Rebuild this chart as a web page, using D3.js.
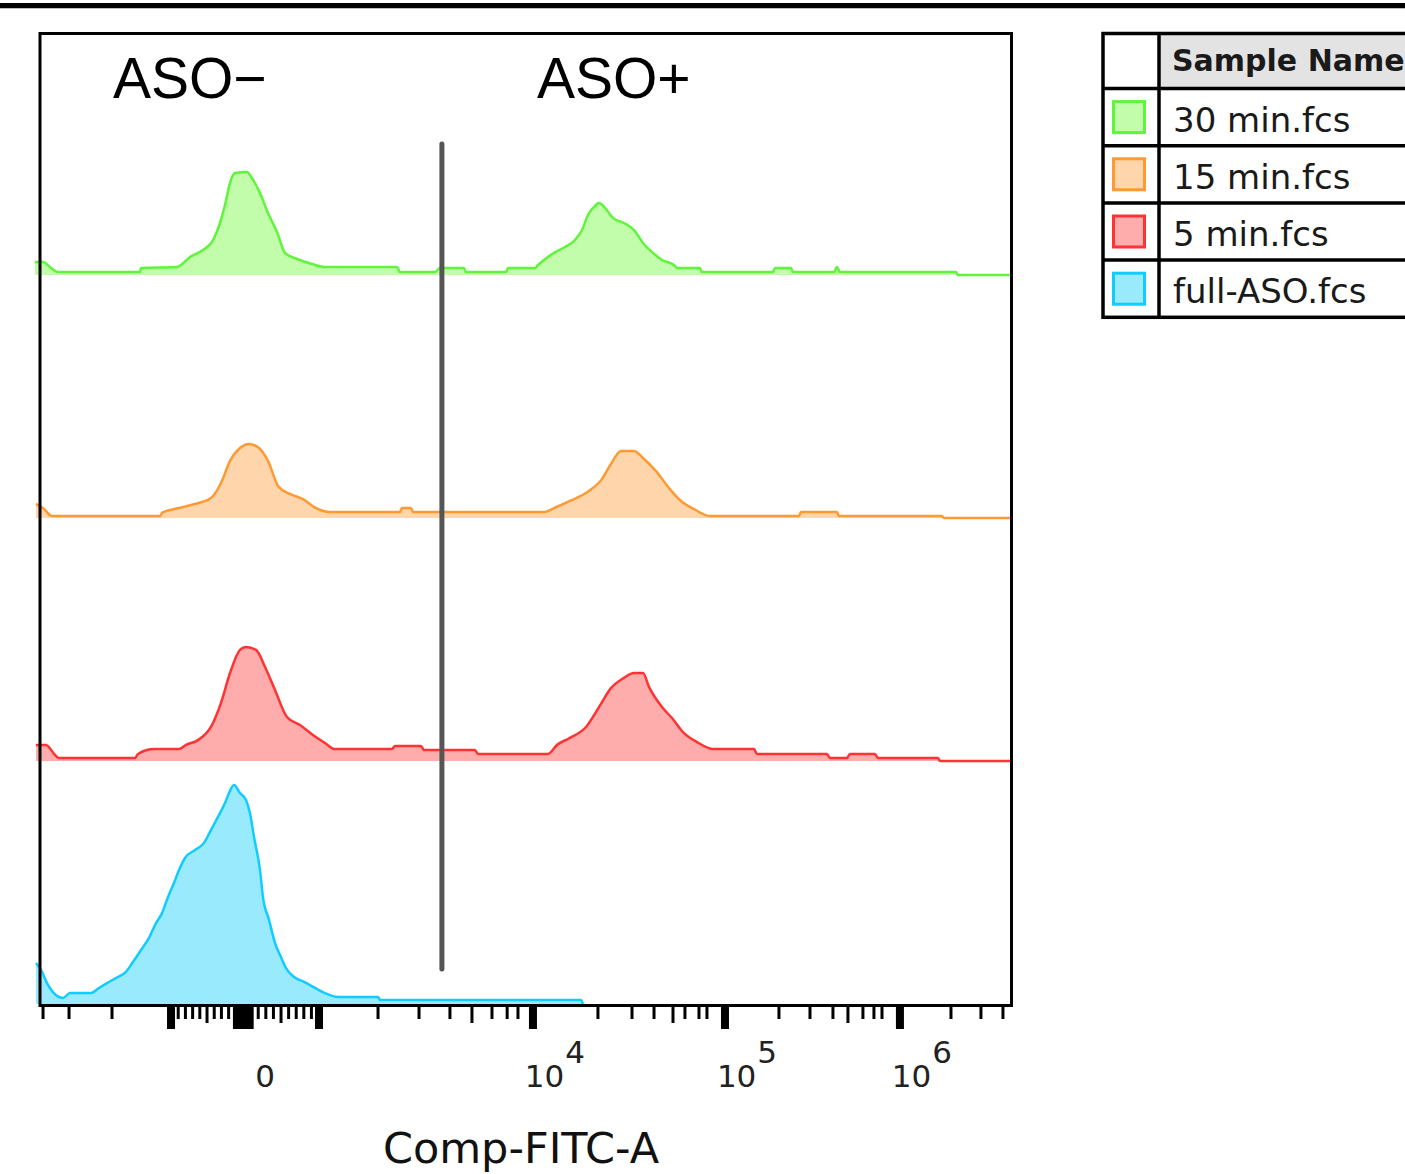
<!DOCTYPE html>
<html><head><meta charset="utf-8">
<script src="https://cdn.jsdelivr.net/npm/d3@7"></script>
<style>body{margin:0;background:#fff}svg{display:block}</style>
</head><body>
<script>
// ---------- DATA ----------
const sampleNames = ["30 min.fcs", "15 min.fcs", "5 min.fcs", "full-ASO.fcs"];
const strokeColors = ["#5ef53a", "#ff9933", "#ff3333", "#11ccff"];
const fillColors   = ["#c1fdab", "#ffd6ab", "#ffacac", "#9aeafe"];
const stackOffsets = [300, 200, 100, 0];   // staggered overlay offsets (% of mode units)

// histogram channels (0-1024 display channel) and heights (% of mode)
const ch30  = [-5.3,3.2,10.5,19.0,105.4,106.5,144.4,158.1,171.8,181.3,189.7,195.0,200.3,205.5,218.2,223.4,231.9,240.3,249.8,258.2,270.9,286.7,300.4,376.3,379.4,416.3,421.6,446.9,449.0,491.2,493.3,521.7,524.9,531.2,541.8,553.4,563.9,571.3,577.6,583.9,589.2,595.5,603.9,615.5,626.1,635.6,646.1,655.6,668.2,671.4,695.6,697.7,772.6,774.7,791.6,793.7,836.9,840.0,843.2,965.5,967.6,1024];
const pct30 = [5.3,5.3,3.3,1.2,1.2,2.9,3.3,7.4,10.3,13.6,21.4,28.8,37.9,42.0,42.4,39.9,33.7,25.5,17.7,9.1,6.6,4.5,3.3,3.3,1.2,1.2,2.9,2.9,1.2,1.2,2.9,2.9,4.1,6.2,9.1,11.5,14.4,18.5,24.7,28.0,29.6,27.6,23.5,21.4,18.5,13.2,9.1,6.2,4.1,2.9,2.9,1.2,1.2,2.9,2.9,1.2,1.2,3.3,1.2,1.2,0,0];

const ch15  = [-4.2,4.2,12.6,126.5,128.6,146.5,163.4,180.2,190.8,200.3,210.8,220.3,230.8,240.3,250.9,263.5,277.2,290.9,304.6,379.4,381.5,391.0,393.1,532.3,541.8,558.6,578.6,592.3,601.8,612.4,626.1,635.6,649.3,663.0,675.6,689.3,706.2,800.0,802.1,840.0,842.1,950.7,952.8,1024];
const pct15 = [5.8,3.7,0.8,0.8,2.1,4.1,5.8,8.2,14.4,23.5,28.8,30.5,28.8,23.5,13.2,9.9,7.8,4.1,2.5,2.5,4.1,4.1,2.5,2.5,4.1,7.0,11.1,16.0,22.2,27.6,27.6,24.7,19.3,12.3,7.0,3.7,0.8,0.8,2.5,2.5,0.8,0.8,0,0];

const ch5  = [-4.2,6.3,15.8,20.0,100.1,103.3,120.2,146.5,153.9,166.5,180.2,190.8,200.3,210.8,217.1,227.7,237.2,247.7,260.3,274.0,287.7,300.4,310.9,371.0,374.2,401.6,404.7,458.5,461.7,535.4,544.9,558.6,575.5,589.2,601.8,615.5,626.1,635.6,641.9,655.6,666.1,678.8,692.5,709.3,752.6,755.7,829.5,832.7,850.6,853.7,880.1,883.3,946.5,948.6,1024];
const pct5 = [6.6,6.6,2.5,1.2,1.2,2.9,4.9,4.9,6.6,8.6,14.0,23.9,36.2,45.7,46.9,45.7,38.7,29.2,18.1,14.8,10.7,7.4,4.9,4.9,6.2,6.2,4.5,4.5,2.9,2.9,6.6,9.5,14.0,22.2,30.0,34.2,36.2,36.2,30.5,22.2,17.7,11.5,7.8,4.9,4.9,2.9,2.9,1.2,1.2,2.9,2.9,1.2,1.2,0,0];

const chFull  = [-4.2,1.1,7.4,13.7,24.2,31.6,53.8,62.2,70.6,80.1,90.6,98.0,106.5,114.9,122.3,128.6,134.9,141.2,146.5,152.8,163.4,172.9,179.2,187.6,195.0,199.2,204.5,210.8,217.1,221.3,225.6,231.9,235.0,241.4,247.7,254.0,259.3,267.7,278.3,289.9,300.4,314.1,356.3,358.4,570.2,572.3];
const pctFull = [16.9,14.0,8.6,4.9,2.5,4.5,4.5,6.6,8.6,10.7,13.2,17.3,22.2,27.2,33.3,37.4,44.0,49.8,55.1,60.1,63.4,66.3,70.8,77.0,82.7,86.8,90.1,86.8,84.0,78.6,68.7,55.1,44.0,34.6,25.1,19.3,14.8,11.1,9.1,6.6,4.5,2.9,2.9,1.6,1.6,0];

const seriesCh  = [ch30, ch15, ch5, chFull];
const seriesPct = [pct30, pct15, pct5, pctFull];

// Comp-FITC-A display transform (fluorescence value -> display channel)
const calValues   = [-4000,-3000,-2000,-1000,0,1000,2000,3000,4000,5000,6000,7000,8000,9000,1e4,2e4,3e4,4e4,5e4,6e4,7e4,8e4,9e4,1e5,2e5,3e5,4e5,5e5,6e5,7e5,8e5,9e5,1e6,2e6,3e6,4e6];
const calChannels = [3.2,30.6,75.9,138.1,214.0,294.1,356.3,399.5,432.1,455.3,476.4,492.4,503.8,512.2,519.6,588.1,624.0,647.2,667.2,679.8,694.6,703.0,713.3,722.0,778.9,811.6,835.8,851.6,867.4,879.0,887.5,897.7,906.4,960.2,991.8,1015.0];

const majorTicks  = [-1000, 1000, 1e4, 1e5, 1e6];
const mediumTicks = [-500, 500, 5000, 5e4, 5e5];
const minorTicks  = [-4000,-3000,-2000,-900,-800,-700,-600,-400,-300,-200,200,300,400,600,700,800,900,2000,3000,4000,6000,7000,8000,2e4,3e4,4e4,6e4,7e4,8e4,2e5,3e5,4e5,6e5,7e5,8e5,2e6,3e6,4e6];
const zeroBand    = [-140, 140];
const labelValues = [0, 1e4, 1e5, 1e6];
const labelBases  = ["0", "10", "10", "10"];
const labelExps   = ["", "4", "5", "6"];
const gateValue   = 3740;          // ASO-/ASO+ gate
const xTitle = "Comp-FITC-A";
const gateLabels = ["ASO\u2212", "ASO+"];
const legendHeader = "Sample Name";

// ---------- LAYOUT ----------
const W = 1405, H = 1174;
const plot = {left: 40, right: 1011.5, top: 33.5, bottom: 1005.5};
const svg = d3.select("body").append("svg").attr("width", W).attr("height", H);

// top rule
svg.append("rect").attr("x", 0).attr("y", 3).attr("width", W).attr("height", 5).attr("fill", "#000");
svg.append("rect").attr("x", 0).attr("y", 8).attr("width", W).attr("height", 1).attr("fill", "#bbb");

const toChannel = d3.scaleLinear().domain(calValues).range(calChannels);
const xCh = d3.scaleLinear().domain([0, 1024]).range([plot.left, plot.right]);
const xVal = v => xCh(toChannel(v));
const y = d3.scaleLinear().domain([0, 400]).range([1004, 32]);

// histograms
seriesCh.forEach((chs, i) => {
  const pts = chs.map((c, j) => ({c, v: seriesPct[i][j]}));
  const off = stackOffsets[i];
  const area = d3.area().x(d => xCh(d.c)).y0(y(off)).y1(d => y(off + d.v)).curve(d3.curveMonotoneX);
  const line = d3.line().x(d => xCh(d.c)).y(d => y(off + d.v)).curve(d3.curveMonotoneX);
  svg.append("path").attr("d", area(pts)).attr("fill", fillColors[i]);
  svg.append("path").attr("d", line(pts)).attr("fill", "none")
     .attr("stroke", strokeColors[i]).attr("stroke-width", 2.5).attr("stroke-linejoin", "round");
});

// gate line
svg.append("line").attr("x1", xVal(gateValue)).attr("x2", xVal(gateValue))
   .attr("y1", 144).attr("y2", 969).attr("stroke", "#555").attr("stroke-width", 5)
   .attr("stroke-linecap", "round");

// frame
svg.append("rect").attr("x", plot.left).attr("y", plot.top)
   .attr("width", plot.right - plot.left).attr("height", plot.bottom - plot.top)
   .attr("fill", "none").attr("stroke", "#000").attr("stroke-width", 3);

// ticks
const tickTop = plot.bottom + 1.5;
const tg = svg.append("g");
tg.selectAll(".minor").data(minorTicks).join("rect")
  .attr("x", d => xVal(d) - 1.5).attr("y", tickTop).attr("width", 3).attr("height", 12).attr("fill", "#000");
tg.selectAll(".medium").data(mediumTicks).join("rect")
  .attr("x", d => xVal(d) - 1.5).attr("y", tickTop).attr("width", 3).attr("height", 16).attr("fill", "#000");
tg.selectAll(".major").data(majorTicks).join("rect")
  .attr("x", d => xVal(d) - 4).attr("y", tickTop).attr("width", 8).attr("height", 22).attr("fill", "#000");
tg.append("rect").attr("x", xVal(zeroBand[0])).attr("y", tickTop)
  .attr("width", xVal(zeroBand[1]) - xVal(zeroBand[0])).attr("height", 22).attr("fill", "#000");

// tick labels
labelValues.forEach((v, i) => {
  const t = svg.append("text").attr("x", xVal(v) + 22).attr("y", 1087)
    .attr("text-anchor", "middle").attr("font-family", "DejaVu Sans").attr("font-size", 31).attr("fill", "#222");
  t.append("tspan").text(labelBases[i]);
  if (labelExps[i]) t.append("tspan").attr("dx", 1).attr("dy", -24).text(labelExps[i]);
});

// axis title
svg.append("text").attr("x", 521).attr("y", 1163).attr("text-anchor", "middle")
   .attr("font-family", "DejaVu Sans").attr("font-size", 43).attr("fill", "#111").text(xTitle);

// gate labels
svg.append("text").attr("x", 113).attr("y", 98).attr("font-family", "Liberation Sans, Arial")
   .attr("font-size", 57).attr("fill", "#000").text(gateLabels[0]);
svg.append("text").attr("x", 537).attr("y", 98).attr("font-family", "Liberation Sans, Arial")
   .attr("font-size", 57).attr("fill", "#000").text(gateLabels[1]);

// legend table
const lg = {left: 1103, div: 1159, right: 1430, top: 33.5, header: 55, row: 57.2};
const lgG = svg.append("g");
lgG.append("rect").attr("x", lg.div).attr("y", lg.top).attr("width", lg.right - lg.div).attr("height", lg.header).attr("fill", "#e3e3e3");
lgG.append("text").attr("x", 1172).attr("y", lg.top + 37).attr("font-family", "DejaVu Sans")
   .attr("font-weight", "bold").attr("font-size", 30).attr("fill", "#1a1a1a").text(legendHeader);
sampleNames.forEach((name, i) => {
  const top = lg.top + lg.header + i * lg.row;
  const cy = top + lg.row / 2;
  lgG.append("rect").attr("x", 1113.5).attr("y", cy - 15.5).attr("width", 31).attr("height", 31)
     .attr("fill", fillColors[i]).attr("stroke", strokeColors[i]).attr("stroke-width", 3);
  lgG.append("text").attr("x", 1173).attr("y", top + 43).attr("font-family", "DejaVu Sans")
     .attr("font-size", 34).attr("fill", "#1a1a1a").text(name);
});
// grid lines
const lineAttr = s => s.attr("stroke", "#000").attr("stroke-width", 3.5);
const rowsY = d3.range(sampleNames.length + 1).map(k => lg.top + lg.header + k * lg.row);
lineAttr(lgG.append("rect").attr("x", lg.left).attr("y", lg.top).attr("width", lg.right - lg.left)
   .attr("height", rowsY[rowsY.length - 1] - lg.top).attr("fill", "none"));
rowsY.slice(0, -1).forEach(yy => lineAttr(lgG.append("line").attr("x1", lg.left).attr("x2", lg.right).attr("y1", yy).attr("y2", yy)));
lineAttr(lgG.append("line").attr("x1", lg.div).attr("x2", lg.div).attr("y1", lg.top).attr("y2", rowsY[rowsY.length - 1]));
</script>
</body></html>
